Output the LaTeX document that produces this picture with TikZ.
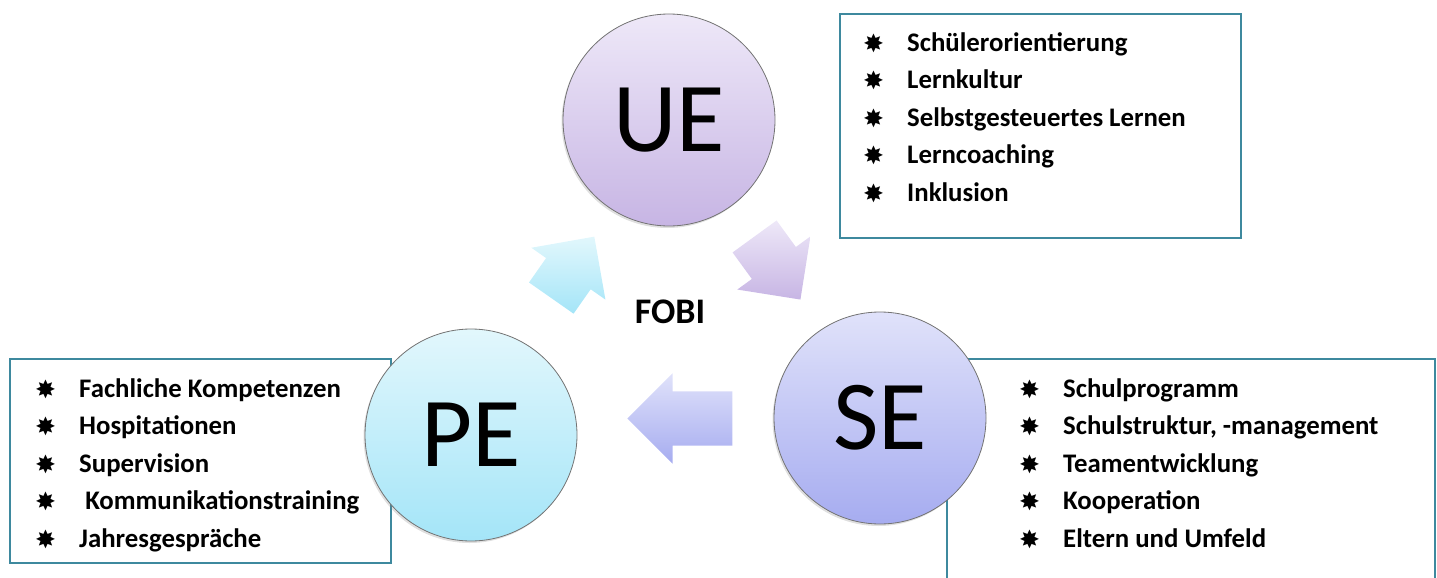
\documentclass[tikz,border=0pt]{standalone}
\usepackage{fontspec}
\setmainfont{Carlito}
\newfontfamily\symfont{DejaVu Sans}
\usetikzlibrary{positioning,calc,shapes.arrows,shadows}

\definecolor{rahmen}{RGB}{62,137,158}
\definecolor{ueoben}{RGB}{238,232,248}
\definecolor{ueunten}{RGB}{199,181,228}
\definecolor{peoben}{RGB}{226,247,252}
\definecolor{peunten}{RGB}{164,229,248}
\definecolor{seoben}{RGB}{224,226,250}
\definecolor{seunten}{RGB}{166,172,240}

\newcommand{\stern}{\makebox[44pt][l]{\raisebox{-1pt}{\symfont\fontsize{25}{25}\selectfont ✸}}}

\begin{document}
\begin{tikzpicture}[x=1pt,y=-1pt]
    \tikzstyle{kreis}=[circle,draw=black!55,line width=0.8pt,minimum size=212pt,inner sep=0pt,
        font=\fontsize{99}{99}\selectfont,drop shadow={opacity=0.25,shadow xshift=-1.5pt,shadow yshift=-2pt}]
    \tikzstyle{kasten}=[draw=rahmen,line width=1.6pt,anchor=north west,inner sep=0pt]
    \tikzstyle{liste}=[anchor=north west,inner sep=0pt,align=left,font=\bfseries\fontsize{26.8}{37.5}\selectfont]
    \tikzstyle{pfeil}=[single arrow,minimum height=78pt,single arrow head extend=18pt,
        inner xsep=0pt,inner ysep=27pt]
    \useasboundingbox (0,0) rectangle (1437,578);

    % boxes behind the circles
    \node[kasten,minimum width=401pt,minimum height=224pt] (uebox) at (839,13) {};
    \node[kasten,minimum width=381pt,minimum height=204pt] (pebox) at (9,358) {};
    \node[kasten,minimum width=488pt,minimum height=240pt] (sebox) at (946,358) {};

    \node[liste] (uelist) at (863,32) {\stern Schülerorientierung\\ \stern Lernkultur\\
        \stern Selbstgesteuertes Lernen\\ \stern Lerncoaching\\ \stern Inklusion};
    \node[liste] (pelist) at (35,378) {\stern Fachliche Kompetenzen\\ \stern Hospitationen\\
        \stern Supervision\\ \stern\ Kommunikationstraining\\ \stern Jahresgespräche};
    \node[liste] (selist) at (1019,378) {\stern Schulprogramm\\ \stern Schulstruktur, -management\\
        \stern Teamentwicklung\\ \stern Kooperation\\ \stern Eltern und Umfeld};

    \node[kreis,top color=ueoben,bottom color=ueunten] (ue) at (669,120) {UE};
    \node[kreis,top color=peoben,bottom color=peunten] (pe) at (471,435) {PE};
    \node[kreis,top color=seoben,bottom color=seunten] (se) at (880,418) {SE};

    % cycle arrows between the circles
    \node[pfeil,minimum height=75pt,rotate=55,top color=peoben,bottom color=peunten]
        (pe2ue) at ($(pe)!0.5!(ue)+(-5,1)$) {};
    \node[pfeil,rotate=-54,top color=ueoben,bottom color=ueunten]
        (ue2se) at ($(ue)!0.5!(se)+(-5,-12)$) {};
    \node[pfeil,minimum height=105pt,rotate=180,top color=seoben,bottom color=seunten]
        (se2pe) at ($(se)!0.5!(pe)+(18,-8)$) {};

    \node[font=\bfseries\fontsize{36}{36}\selectfont] (fobi) at (670,312) {FOBI};
\end{tikzpicture}
\end{document}
